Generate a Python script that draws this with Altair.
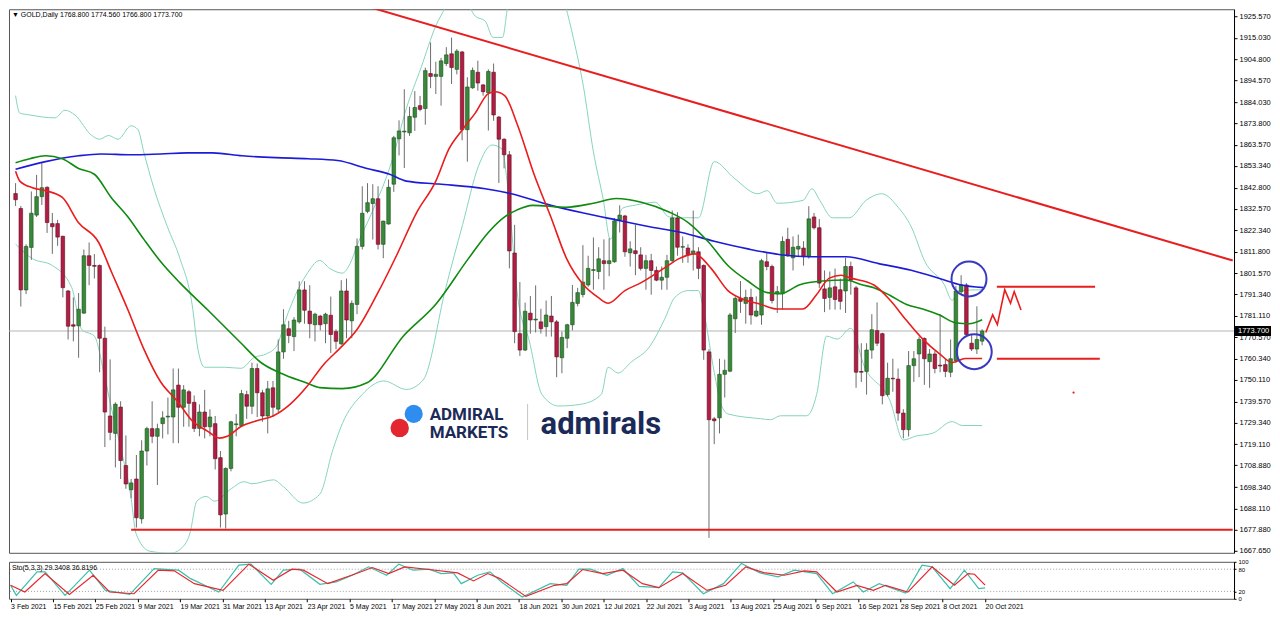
import json
import altair as alt
import pandas as pd

# ---------------- data ----------------
DATE_LABELS = ["3 Feb 2021", "15 Feb 2021", "25 Feb 2021", "9 Mar 2021", "19 Mar 2021",
               "31 Mar 2021", "13 Apr 2021", "23 Apr 2021", "5 May 2021", "17 May 2021",
               "27 May 2021", "8 Jun 2021", "18 Jun 2021", "30 Jun 2021", "12 Jul 2021",
               "22 Jul 2021", "3 Aug 2021", "13 Aug 2021", "25 Aug 2021", "6 Sep 2021",
               "16 Sep 2021", "28 Sep 2021", "8 Oct 2021", "20 Oct 2021"]

OPEN = [1840, 1832.8, 1793.5, 1814, 1829.6, 1838.5, 1843, 1825.5, 1825.5, 1819.4,
        1793, 1776.7, 1776.2, 1782.3, 1810, 1805.3, 1805.3, 1770.2, 1732.7, 1724.3,
        1737, 1708.8, 1697.1, 1702.3, 1683.1, 1715.8, 1726.6, 1722.9, 1729, 1732.2,
        1732.2, 1747.6, 1736.9, 1744.4, 1739.3, 1726.7, 1734.6, 1727.5, 1729, 1712.6,
        1685.4, 1707.4, 1728.5, 1728, 1743, 1737.4, 1755.6, 1743.9, 1732.7, 1746.3,
        1736, 1763.6, 1774.8, 1771, 1778.1, 1793.5, 1783.3, 1776.7, 1780.9, 1777.2,
        1781.3, 1773.4, 1767.5, 1793, 1778.6, 1786.5, 1814.5, 1831.4, 1835.2, 1837.5,
        1815.5, 1825.3, 1844.5, 1866.4, 1869.7, 1869.3, 1876.8, 1882.4, 1881, 1897.9,
        1896.5, 1896.5, 1902.7, 1907.4, 1899.9, 1908.3, 1870.8, 1891, 1898.5, 1892.4,
        1888.6, 1898.5, 1876.9, 1866.2, 1858.7, 1811.3, 1772.4, 1764.5, 1782.3, 1779,
        1778.1, 1775.8, 1780.9, 1778.1, 1760.8, 1770.2, 1776.7, 1787, 1791.3, 1795.9,
        1802.9, 1802.4, 1807.6, 1806.2, 1807.1, 1827.3, 1829.2, 1811.4, 1812.4, 1810.4,
        1803.9, 1807.6, 1802.9, 1798.2, 1799.6, 1807.6, 1828.2, 1814.1, 1813.7, 1810.9,
        1811.9, 1805.3, 1763.6, 1731.3, 1731.8, 1752.8, 1754.3, 1779.6, 1789.4, 1787,
        1789.9, 1780.9, 1781.4, 1807.1, 1804.8, 1791.6, 1791.6, 1817.9, 1809, 1813.2,
        1813.7, 1809.5, 1828.7, 1823.5, 1794, 1789.9, 1795, 1793.6, 1793, 1804.8,
        1794.5, 1754.2, 1754.2, 1764.5, 1773.9, 1772.4, 1743, 1750.9, 1750.5, 1734.1,
        1726.1, 1757, 1762.6, 1770.1, 1758.9, 1762.6, 1757.2, 1757.5, 1753.8, 1759.4,
        1792.6, 1795.9, 1767.8, 1765, 1768.8]

HIGH = [1845, 1834, 1815.5, 1841, 1849, 1855, 1843.5, 1830.6, 1827.3, 1819.6,
        1793.5, 1789.9, 1792, 1813, 1816.4, 1810.8, 1805.8, 1775.8, 1760, 1739.3,
        1739.8, 1723.3, 1702.3, 1713.9, 1721, 1727.5, 1739.8, 1729, 1735, 1741.6,
        1755.6, 1755.6, 1747.6, 1745.3, 1742.6, 1738.3, 1745.3, 1735.9, 1732.7, 1715.8,
        1707.9, 1730.4, 1733.6, 1745.3, 1744.9, 1758.4, 1758, 1745.3, 1749.6, 1749.6,
        1769.6, 1784.2, 1778.6, 1780.4, 1797.7, 1797.7, 1795.8, 1782.5, 1781.5, 1782.5,
        1790.3, 1774.5, 1798.2, 1799, 1788.4, 1818.3, 1843.5, 1845, 1844.5, 1843.5,
        1826.9, 1846.8, 1867.8, 1875.3, 1890.3, 1881.9, 1889.4, 1887.1, 1900.7, 1912.9,
        1903.6, 1905.4, 1910.6, 1915.2, 1909.7, 1908.8, 1896.1, 1900.8, 1904.1, 1892.9,
        1899.9, 1902.7, 1877.4, 1866.7, 1860.5, 1824.9, 1797.3, 1787.4, 1790.6, 1795.7,
        1784.4, 1788.4, 1790.6, 1779, 1773.4, 1777.2, 1795.9, 1794.5, 1815.1, 1810,
        1818.8, 1814.1, 1817.9, 1818.4, 1828.2, 1834.3, 1829.7, 1817, 1824.9, 1814.1,
        1810.4, 1810.9, 1804.8, 1804.8, 1810.4, 1831.8, 1831, 1819.3, 1815.5, 1831.8,
        1814.1, 1805.8, 1764.9, 1732.2, 1760.3, 1759.9, 1782.4, 1790.4, 1797.8, 1793.6,
        1794.1, 1790.4, 1808.5, 1811.4, 1805.7, 1795.4, 1819.3, 1823.5, 1819.3, 1820.2,
        1817, 1833.9, 1830.6, 1827.7, 1802.9, 1802.4, 1803.8, 1799, 1809, 1807.1,
        1795.4, 1767.8, 1767.8, 1781.8, 1787.5, 1772.9, 1758.4, 1760.3, 1755.6, 1736,
        1764, 1764, 1771, 1770.6, 1765, 1764, 1781.8, 1760.3, 1769.6, 1795.4,
        1800.6, 1796.8, 1772, 1785.6, 1774.56]

LOW = [1834, 1785.5, 1791.5, 1808, 1828.7, 1834.5, 1821, 1810.9, 1814.8, 1789.9,
       1769.6, 1768.7, 1760.8, 1782, 1795.8, 1799, 1753.8, 1717.7, 1721, 1707.9,
       1702.3, 1697.6, 1693, 1678.9, 1680.8, 1708.8, 1719.6, 1699.4, 1721.9, 1723.8,
       1719.6, 1719.6, 1727.5, 1727.5, 1725, 1722.9, 1721.9, 1722.9, 1706.9, 1678.9,
       1678.4, 1706, 1722.9, 1727.5, 1731.3, 1733.6, 1732.2, 1729.9, 1724.3, 1732.2,
       1734.6, 1760.3, 1767.8, 1764, 1777.2, 1777.2, 1770.2, 1768.7, 1774, 1767.8,
       1763.1, 1764.9, 1767, 1770.2, 1770.2, 1781.8, 1813, 1830.5, 1817.8, 1813,
       1808.8, 1825, 1840.8, 1858.4, 1852.3, 1867.8, 1870.2, 1879.7, 1873.2, 1890.8,
       1888, 1882.4, 1901.5, 1892.8, 1897.5, 1865.7, 1855.4, 1890.5, 1889.6, 1887.2,
       1870.4, 1875.1, 1845.1, 1852.1, 1803.9, 1767.8, 1761.7, 1764, 1772.4, 1773,
       1772.5, 1771, 1771, 1751.4, 1753.3, 1765.4, 1774, 1785.6, 1789.9, 1795,
       1793.6, 1798.7, 1793.6, 1800.1, 1806.6, 1821.2, 1809.5, 1804.8, 1800.6, 1802.9,
       1793.6, 1791.2, 1797.7, 1793.6, 1793.6, 1807, 1810, 1806.6, 1806.6, 1802.9,
       1798.7, 1759.8, 1673.9, 1719.1, 1724.3, 1741.6, 1753.8, 1772.7, 1782.4, 1777.2,
       1776.8, 1780.4, 1776.7, 1803, 1787, 1782.4, 1784, 1809.5, 1802.9, 1809.5,
       1805.2, 1808.6, 1822.6, 1794.5, 1782.8, 1784, 1784, 1784, 1782.4, 1791.2,
       1746.3, 1749.1, 1743, 1760.3, 1766.4, 1738.3, 1742.1, 1744.4, 1730.4, 1721.9,
       1722.8, 1749.1, 1751.4, 1747.7, 1746.3, 1753.3, 1753.8, 1751.4, 1751.4, 1758.4,
       1791.2, 1771, 1764, 1762.6, 1766.8]

CLOSE = [1837, 1793.5, 1814.5, 1830.5, 1838.5, 1842.8, 1826, 1824, 1819, 1794.6,
         1776, 1776, 1784.2, 1810, 1805.3, 1804.9, 1770.2, 1734.6, 1724.8, 1738.4,
         1711.2, 1699.9, 1700.4, 1683.6, 1715.8, 1726.6, 1722.9, 1726.6, 1731.8, 1732.6,
         1745.3, 1736.9, 1745.3, 1738.8, 1726.7, 1734.6, 1727.5, 1732.2, 1712.1, 1685,
         1707.4, 1729.9, 1728.9, 1743.5, 1737.4, 1755.6, 1743.9, 1732.7, 1745.8, 1736.9,
         1763.6, 1776.7, 1771.5, 1779, 1793.5, 1783.7, 1777.2, 1781.8, 1776.7, 1781.8,
         1772, 1768.7, 1793, 1779, 1787, 1814.5, 1830.5, 1835.6, 1837.5, 1815.5,
         1826.7, 1843, 1866.9, 1870.2, 1870.1, 1877.2, 1881.5, 1880.6, 1899.3, 1896.5,
         1897.5, 1904, 1906.9, 1900.8, 1908.7, 1870.8, 1891.4, 1899.4, 1893.3, 1889.1,
         1898.9, 1877.9, 1866.2, 1858.7, 1812.3, 1773.4, 1764.5, 1783.2, 1779, 1779.4,
         1774.8, 1781.4, 1778.1, 1761.2, 1770.6, 1776.7, 1787.5, 1792.2, 1797.3, 1803.9,
         1803.3, 1808.5, 1806.2, 1807.6, 1826.8, 1829.6, 1811.9, 1813.3, 1811, 1803.9,
         1807.6, 1802.9, 1798.2, 1799.6, 1807.6, 1828.2, 1814.1, 1814.4, 1810.4, 1812.3,
         1803.9, 1764.5, 1730.9, 1730.4, 1752.8, 1754.7, 1781.4, 1789.4, 1788, 1789.9,
         1781.4, 1783.3, 1807.6, 1804.8, 1788.4, 1792.7, 1816.9, 1809.9, 1814.1, 1814.5,
         1809.5, 1827.8, 1823.5, 1796.8, 1789.4, 1794.5, 1788.9, 1788, 1804.8, 1798.2,
         1753.8, 1753.8, 1764.5, 1774.3, 1767.8, 1742.5, 1750.9, 1750.6, 1734.1, 1726.1,
         1757, 1760.3, 1769.6, 1760.3, 1762.6, 1755.6, 1756.8, 1754.2, 1760.3, 1793,
         1795.9, 1772, 1765, 1769.6, 1773.7]

# moving averages (bar index, price) read at sparse points
SMA20_I = [0, 0.8, 3.2, 5.7, 8.9, 12.0, 15.8, 18.2, 21.4, 24.4, 27.6, 30.8, 33.6, 36.6, 38.8,
           40.3, 42.9, 45.9, 49.1, 52.3, 55.3, 58.5, 62.2, 65.0, 68.8, 72.5, 76.3, 80.0, 82.5,
           85.1, 87.5, 90.0, 91.3, 93.1, 95.6, 98.7, 101.9, 104.9, 108.1, 110.9, 112.8, 116.0,
           119.0, 124.0, 126.3, 129.3, 132.4, 135.6, 138.6, 141.8, 145.0, 149.9, 152.5, 154.9,
           157.2, 159.0, 163.4, 166.5, 169.5, 172.7, 175.9, 178.3, 180.8, 184.0]
SMA20_P = [1850.7, 1846.0, 1842.8, 1841.4, 1838.1, 1825.9, 1816.5, 1802.5, 1783.8, 1765.1,
           1749.2, 1739.8, 1730.4, 1725.3, 1722.0, 1722.9, 1727.6, 1730.4, 1732.8, 1738.4,
           1746.4, 1757.1, 1766.5, 1774.4, 1791.3, 1810.0, 1830.6, 1846.0, 1861.5, 1870.9,
           1878.8, 1888.2, 1889.1, 1887.2, 1872.7, 1849.3, 1828.7, 1808.6, 1796.0, 1789.9,
           1787.1, 1793.2, 1796.9, 1804.9, 1808.6, 1810.9, 1803.9, 1793.2, 1788.9, 1786.6,
           1784.3, 1784.3, 1791.3, 1799.2, 1800.6, 1799.2, 1795.9, 1788.5, 1779.1, 1769.8,
           1762.7, 1758.5, 1760.4, 1760.4]

SMA50_I = [0, 2.7, 5.7, 8.9, 12.0, 15.0, 18.2, 21.4, 24.4, 27.6, 31.3, 36.6, 42.9, 46.7, 50.4,
           55.3, 57.9, 62.2, 66.9, 73.8, 80.0, 86.2, 90.0, 93.1, 95.4, 98.4, 104.7, 110.0,
           114.3, 119.3, 124.4, 128.1, 131.9, 135.6, 139.4, 143.1, 145.6, 149.3, 153.6, 158.1,
           161.1, 163.4, 166.5, 169.5, 172.7, 175.9, 178.9, 181.5, 184.0]
SMA50_P = [1854.9, 1856.8, 1858.2, 1856.8, 1852.1, 1849.3, 1838.1, 1828.7, 1818.0, 1807.2,
           1796.9, 1783.8, 1767.9, 1758.5, 1753.4, 1748.7, 1746.4, 1745.9, 1748.7, 1771.2,
           1786.6, 1808.6, 1821.2, 1828.7, 1832.0, 1834.3, 1833.4, 1835.3, 1837.6, 1835.7,
           1831.1, 1825.9, 1816.6, 1805.3, 1797.8, 1792.2, 1791.7, 1796.0, 1797.8, 1798.3,
           1796.0, 1794.6, 1790.8, 1786.6, 1784.3, 1781.4, 1777.7, 1777.2, 1779.1]

SMA200_I = [0, 5.7, 12.0, 16.3, 22.0, 27.6, 32.6, 37.5, 43.1, 49.5, 55.7, 61.3, 66.9, 71.2,
            74.4, 80.6, 89.4, 94.4, 101.9, 108.1, 114.3, 120.7, 126.8, 133.0, 139.4, 145.6,
            151.7, 158.1, 164.3, 170.5, 176.8, 179.8, 184.3]
SMA200_P = [1851.7, 1855.4, 1858.2, 1859.1, 1858.7, 1859.1, 1859.6, 1859.6, 1858.2, 1857.3,
            1856.8, 1855.9, 1852.1, 1849.3, 1846.0, 1844.6, 1842.3, 1839.9, 1834.3, 1830.6,
            1827.3, 1824.0, 1821.2, 1817.0, 1813.3, 1810.5, 1809.5, 1809.5, 1806.2, 1803.0,
            1798.3, 1796.0, 1794.6]

BBU_I = [0, 0.8, 2.7, 7.5, 9.4, 11.3, 14.5, 16.0, 17.7, 19.5, 22.0, 23.3, 24.4, 26.3, 28.9,
         31.3, 33.6, 34.7, 36.0, 39.8, 42.9, 45.4, 47.8, 49.7, 51.6, 54.2, 55.3, 57.9, 59.8,
         62.2, 63.7, 65.1, 67.8, 71.6, 74.4, 77.2, 80.0, 81.9, 83.2, 85.6, 87.5, 89.4, 90.9,
         92.7, 93.7, 97.0, 101.0, 104.7, 106.2, 108.1, 110.0, 111.9, 113.2, 115.6, 118.0,
         121.8, 124.4, 126.8, 130.0, 133.0, 136.8, 141.3, 143.1, 145.0, 149.9, 151.6, 153.1,
         155.5, 158.7, 161.9, 164.9, 168.0, 170.5, 173.1, 176.8, 178.3, 179.6, 184.0]
BBU_P = [1887.2, 1878.8, 1877.9, 1876.5, 1880.2, 1877.9, 1868.0, 1866.2, 1868.0, 1866.2,
         1872.7, 1870.8, 1860.1, 1842.8, 1824.0, 1808.6, 1786.6, 1765.1, 1756.2, 1756.2,
         1755.7, 1760.9, 1762.7, 1766.5, 1780.5, 1795.9, 1800.6, 1807.7, 1803.9, 1801.6,
         1806.3, 1815.6, 1830.6, 1855.4, 1881.1, 1900.8, 1920.9, 1930.3, 1938.0, 1933.6,
         1925.6, 1923.2, 1915.3, 1915.3, 1930.3, 1950.0, 1950.0, 1930.3, 1914.8, 1891.6,
         1860.1, 1836.7, 1818.0, 1833.0, 1834.4, 1835.8, 1828.7, 1828.3, 1828.3, 1855.4,
         1847.4, 1839.9, 1841.4, 1835.3, 1836.7, 1842.3, 1836.7, 1828.3, 1828.3, 1836.7,
         1839.9, 1833.4, 1824.0, 1807.2, 1796.0, 1788.5, 1793.2, 1793.6]

BBL_I = [0, 3.2, 7.0, 10.7, 12.6, 15.0, 16.9, 18.2, 20.1, 22.0, 22.9, 25.5, 29.5, 32.0, 33.2,
         34.5, 36.3, 37.9, 41.1, 43.5, 45.0, 49.1, 51.0, 54.7, 57.9, 60.4, 62.2, 66.0, 70.1,
         74.4, 77.6, 81.9, 85.1, 88.1, 90.7, 92.6, 93.7, 95.6, 97.8, 100.2, 103.4, 107.7,
         111.5, 112.8, 114.7, 117.1, 120.8, 123.5, 125.5, 128.1, 130.0, 131.1, 133.0, 134.3,
         135.6, 141.8, 143.7, 145.6, 150.6, 152.5, 154.4, 156.4, 159.0, 161.5, 166.5, 169.0,
         171.4, 174.6, 178.3, 180.2, 184.0]
BBL_P = [1815.6, 1808.6, 1805.3, 1794.6, 1774.4, 1771.2, 1752.4, 1737.0, 1716.4, 1693.0,
         1676.2, 1667.5, 1666.5, 1670.0, 1676.2, 1691.6, 1693.9, 1691.6, 1697.7, 1701.0,
         1700.0, 1701.9, 1698.6, 1690.7, 1694.9, 1716.4, 1729.0, 1743.1, 1749.6, 1745.5,
         1750.1, 1794.6, 1825.0, 1853.1, 1863.4, 1861.5, 1842.8, 1789.9, 1768.8, 1743.1,
         1737.5, 1738.4, 1743.1, 1756.2, 1753.4, 1758.5, 1766.5, 1779.1, 1789.9, 1793.2,
         1793.2, 1781.9, 1753.8, 1738.4, 1733.7, 1731.4, 1730.9, 1732.8, 1732.8, 1743.1,
         1771.2, 1769.8, 1775.0, 1757.1, 1739.8, 1721.1, 1723.0, 1724.4, 1730.0, 1728.1,
         1728.1]

# stochastic (5,3,3): turning points
K_I = [0, 1.1, 5.0, 6.5, 10.3, 14.9, 17.9, 22.5, 27.1, 31.7, 34.0, 39.3, 43.1, 45.4, 49.2,
       51.5, 54.6, 58.4, 61.5, 64.5, 67.6, 71.0, 73.3, 76.0, 79.0, 81.3, 83.6, 85.1, 88.2,
       90.5, 92.7, 96.6, 101.9, 105.0, 107.3, 109.5, 112.6, 115.6, 118.7, 122.4, 125.0,
       126.9, 130.8, 134.6, 138.0, 141.5, 144.9, 148.0, 152.2, 155.2, 159.1, 161.0, 164.0,
       169.0, 172.1, 174.0, 177.4, 180.1, 182.8, 184.0]
K_V = [36.4, 9.1, 72.7, 72.7, 9.1, 77.3, 22.7, 11.8, 81.8, 77.3, 54.5, 18.2, 90.9, 93.6, 39.1,
       77.3, 80.0, 39.1, 45.5, 63.6, 86.4, 63.6, 93.6, 77.3, 80.0, 68.2, 70.0, 40.9, 63.6,
       72.7, 45.5, 4.5, 40.9, 36.4, 80.0, 80.0, 63.6, 81.8, 33.6, 30.0, 72.7, 70.0, 13.6,
       40.9, 95.5, 70.0, 59.1, 77.3, 68.2, 13.6, 45.5, 18.2, 40.9, 15.5, 90.9, 86.4, 27.3,
       77.3, 27.3, 29.3408]
D_I = [0, 2.7, 6.5, 11.1, 15.6, 18.7, 23.3, 27.9, 30.9, 34.7, 40.1, 45.0, 49.6, 53.1, 55.3,
       59.9, 65.3, 68.3, 71.4, 74.4, 79.0, 84.4, 87.4, 90.1, 92.4, 97.3, 102.7, 105.0, 108.0,
       111.8, 115.6, 119.3, 122.4, 126.9, 131.5, 135.0, 138.8, 142.2, 146.1, 149.9, 152.2,
       156.0, 159.8, 162.9, 165.2, 169.4, 174.0, 178.2, 180.8, 182.0, 184.0]
D_V = [36.4, 18.2, 68.2, 11.8, 63.6, 18.2, 13.6, 77.3, 75.5, 40.9, 22.7, 93.6, 50.0, 80.0,
       77.3, 40.9, 68.2, 84.5, 68.2, 86.4, 79.1, 70.0, 48.2, 68.2, 54.5, 6.4, 36.4, 40.9,
       79.1, 68.2, 77.3, 40.9, 30.0, 68.2, 22.7, 36.4, 86.4, 70.9, 63.6, 75.5, 72.7, 18.2,
       36.4, 22.7, 36.4, 18.2, 86.4, 36.4, 68.2, 66.4, 36.8196]

PRICE_TICKS = [1925.57, 1915.03, 1904.80, 1894.57, 1884.03, 1873.80, 1863.57, 1853.34,
               1842.80, 1832.57, 1822.34, 1811.80, 1801.57, 1791.34, 1781.11, 1770.57,
               1760.34, 1750.11, 1739.57, 1729.34, 1719.11, 1708.88, 1698.34, 1688.11,
               1677.88, 1667.65]
LAST_PRICE = 1773.70

TREND_I = [66.9, 231.7]
TREND_P = [1930.3, 1807.7]
SUPPORT_I = [22.0, 231.7]
SUPPORT_P = [1677.88, 1677.88]
LEVEL_I1 = [186.8, 186.8]
LEVEL_I2 = [205.5, 206.4]
LEVEL_P = [1795.0, 1760.3]
ZIG_I = [184.7, 186.0, 186.9, 188.3, 189.4, 190.1, 191.4]
ZIG_P = [1773.0, 1781.5, 1776.8, 1793.6, 1787.1, 1792.7, 1783.8]
DOT_I = [201.4]
DOT_P = [1744.0]
CIRCLE_I = [181.5, 182.5]
CIRCLE_P = [1798.8, 1763.7]

# ---------------- chart ----------------
W = 1226
H_PRICE = 544
H_STO = 37
XDOM = [-0.3, 231.0]
YDOM = [1666.7, 1928.9]
FONT = "Liberation Sans"

XS = alt.Scale(domain=XDOM, nice=False, zero=False)
YS = alt.Scale(domain=YDOM, nice=False, zero=False)
YAX = alt.Axis(orient="right", values=PRICE_TICKS, format=".3f", labelFont=FONT,
               labelFontSize=7.5, labelColor="#000000", tickSize=3, tickColor="#000000",
               domainColor="#000000", grid=False, labelOverlap=False, labelPadding=2,
               title=None, labelFlush=False)


def X(f="i"):
    return alt.X(f"{f}:Q", scale=XS, axis=None)


def Y(f="p"):
    return alt.Y(f"{f}:Q", scale=YS, axis=YAX)


n = len(OPEN)
cdf = pd.DataFrame({"i": list(range(n)), "o": OPEN, "h": HIGH, "l": LOW, "c": CLOSE})
cdf["bl"] = cdf[["o", "c"]].min(axis=1)
cdf["bh"] = cdf[["o", "c"]].max(axis=1)
cdf["up"] = cdf["c"] >= cdf["o"]


def line_df(ii, pp):
    return pd.DataFrame({"i": ii, "p": pp})


one = pd.DataFrame({"a": [0]})

last_line = alt.Chart(pd.DataFrame({"p": [LAST_PRICE]})).mark_rule(
    color="#b4b4b4", strokeWidth=1).encode(y=Y())

bb_up = alt.Chart(line_df(BBU_I, BBU_P)).mark_line(
    color="#86d4bd", strokeWidth=1, interpolate="monotone", clip=True).encode(x=X(), y=Y())
bb_lo = alt.Chart(line_df(BBL_I, BBL_P)).mark_line(
    color="#86d4bd", strokeWidth=1, interpolate="monotone", clip=True).encode(x=X(), y=Y())

wicks = alt.Chart(cdf).mark_rule(color="#6c6c6c", strokeWidth=1).encode(
    x=X(), y=Y("l"), y2="h:Q")
bodies_up = alt.Chart(cdf).transform_filter("datum.up").mark_bar(
    size=3.6, fill="#38893a", stroke="#1c4f1c", strokeWidth=0.6).encode(
    x=X(), y=Y("bl"), y2="bh:Q")
bodies_dn = alt.Chart(cdf).transform_filter("!datum.up").mark_bar(
    size=3.6, fill="#b21d44", stroke="#5e0f22", strokeWidth=0.6).encode(
    x=X(), y=Y("bl"), y2="bh:Q")

sma200 = alt.Chart(line_df(SMA200_I, SMA200_P)).mark_line(
    color="#1c1cd8", strokeWidth=1.6, interpolate="monotone", clip=True).encode(x=X(), y=Y())
sma50 = alt.Chart(line_df(SMA50_I, SMA50_P)).mark_line(
    color="#108a10", strokeWidth=1.6, interpolate="monotone", clip=True).encode(x=X(), y=Y())
sma20 = alt.Chart(line_df(SMA20_I, SMA20_P)).mark_line(
    color="#ea1c1c", strokeWidth=1.6, interpolate="monotone", clip=True).encode(x=X(), y=Y())

trend = alt.Chart(line_df(TREND_I, TREND_P)).mark_line(
    color="#e81e1e", strokeWidth=2, clip=True).encode(x=X(), y=Y())
support = alt.Chart(line_df(SUPPORT_I, SUPPORT_P)).mark_line(
    color="#e81e1e", strokeWidth=2, clip=True).encode(x=X(), y=Y())
levels = alt.Chart(pd.DataFrame({"i": LEVEL_I1, "i2": LEVEL_I2, "p": LEVEL_P})).mark_rule(
    color="#e81e1e", strokeWidth=2).encode(x=X(), x2="i2:Q", y=Y())
zig = alt.Chart(line_df(ZIG_I, ZIG_P)).mark_line(
    color="#e81e1e", strokeWidth=1.6).encode(x=X(), y=Y())
dot = alt.Chart(line_df(DOT_I, DOT_P)).mark_circle(
    color="#e81e1e", size=5, opacity=1).encode(x=X(), y=Y())
circles = alt.Chart(line_df(CIRCLE_I, CIRCLE_P)).mark_point(
    shape="circle", filled=False, size=1225, stroke="#3838c0", strokeWidth=2,
    opacity=1).encode(x=X(), y=Y())

# watermark logo
logo_blue = alt.Chart(one).mark_circle(size=330, color="#2f8df0", opacity=1).encode(
    x=alt.value(405), y=alt.value(405))
logo_red = alt.Chart(one).mark_circle(size=340, color="#e3262f", opacity=1).encode(
    x=alt.value(391), y=alt.value(419))
logo_t1 = alt.Chart(one).mark_text(
    text="ADMIRAL", align="left", baseline="alphabetic", font="Roboto", fontWeight="bold",
    fontSize=17, color="#1c2a57").encode(x=alt.value(421), y=alt.value(411))
logo_t2 = alt.Chart(one).mark_text(
    text="MARKETS", align="left", baseline="alphabetic", font="Roboto", fontWeight="bold",
    fontSize=17, color="#1c2a57").encode(x=alt.value(421), y=alt.value(429))
logo_sep = alt.Chart(one).mark_rule(color="#c4c4c4", strokeWidth=1).encode(
    x=alt.value(519), y=alt.value(395), y2=alt.value(431))
logo_t3 = alt.Chart(one).mark_text(
    text="admirals", align="left", baseline="alphabetic", font="Roboto", fontWeight="bold",
    fontSize=31, color="#1c2a57").encode(x=alt.value(532), y=alt.value(425))

title = alt.Chart(one).mark_text(
    text="\u25bc GOLD,Daily  1768.800 1774.560 1766.800 1773.700", align="left",
    baseline="middle", font=FONT, fontSize=7, color="#000000").encode(
    x=alt.value(3), y=alt.value(6))

lbl_df = pd.DataFrame({"p": [LAST_PRICE]})
lbl_df["p1"] = lbl_df["p"] - 2.4
lbl_df["p2"] = lbl_df["p"] + 2.4
lbl_df["t"] = lbl_df["p"].map(lambda v: f"{v:.3f}")
price_box = alt.Chart(lbl_df).mark_rect(color="#000000").encode(
    x=alt.value(W + 1), x2=alt.value(W + 37), y=Y("p1"), y2="p2:Q")
price_txt = alt.Chart(lbl_df).mark_text(
    align="left", baseline="middle", font=FONT, fontSize=7.5, color="#ffffff").encode(
    x=alt.value(W + 4), y=Y("p"), text="t:N")

price_panel = alt.layer(
    last_line, bb_up, bb_lo, wicks, bodies_up, bodies_dn, sma200, sma50, sma20,
    trend, support, levels, zig, dot, circles,
    logo_blue, logo_red, logo_t1, logo_t2, logo_sep, logo_t3, title, price_box, price_txt
).properties(width=W, height=H_PRICE)

# ---------------- stochastic panel ----------------
SX = alt.Scale(domain=XDOM, nice=False, zero=False)
SY = alt.Scale(domain=[0, 100], nice=False, zero=False)
label_expr = ("datum.value % 8 == 0 ? " + json.dumps(DATE_LABELS) +
              "[datum.value / 8] : ''")
XAX = alt.Axis(values=list(range(0, n, 8)), labelExpr=label_expr, labelAlign="left",
               labelFont=FONT, labelFontSize=7, labelColor="#000000", tickSize=3,
               tickColor="#000000", domain=False, grid=False, labelOverlap=False,
               labelFlush=False, labelPadding=1, title=None)
SYAX = alt.Axis(orient="right", values=[0, 20, 80, 100], labelFont=FONT, labelFontSize=6,
                labelColor="#000000", tickSize=2, tickColor="#000000", domainColor="#000000",
                grid=False, labelOverlap=False, labelPadding=2, title=None, labelFlush=False)

k_df = pd.DataFrame({"i": K_I, "v": K_V})
d_df = pd.DataFrame({"i": D_I, "v": D_V})
lev_df = pd.DataFrame({"v": [20, 80]})

sto_levels = alt.Chart(lev_df).mark_rule(color="#a0a0a0", strokeWidth=1,
                                         strokeDash=[1, 2]).encode(
    y=alt.Y("v:Q", scale=SY, axis=SYAX))
sto_k = alt.Chart(k_df).mark_line(color="#3cbfaa", strokeWidth=1.2, clip=True).encode(
    x=alt.X("i:Q", scale=SX, axis=XAX), y=alt.Y("v:Q", scale=SY, axis=SYAX))
sto_d = alt.Chart(d_df).mark_line(color="#e8262e", strokeWidth=1.2, clip=True).encode(
    x=alt.X("i:Q", scale=SX, axis=XAX), y=alt.Y("v:Q", scale=SY, axis=SYAX))
sto_title = alt.Chart(one).mark_text(
    text="Sto(5,3,3) 29.3408 36.8196", align="left", baseline="middle", font=FONT,
    fontSize=7, color="#000000").encode(x=alt.value(3), y=alt.value(6))

sto_panel = alt.layer(sto_levels, sto_k, sto_d, sto_title).properties(width=W, height=H_STO)

chart = alt.vconcat(price_panel, sto_panel, spacing=2).properties(
    padding={"left": 0, "top": 0, "right": 0, "bottom": 0},
    background="#ffffff",
).configure_view(stroke="#555555", strokeWidth=1)

chart.save("out.html", embed_options={"renderer": "svg", "actions": False})
